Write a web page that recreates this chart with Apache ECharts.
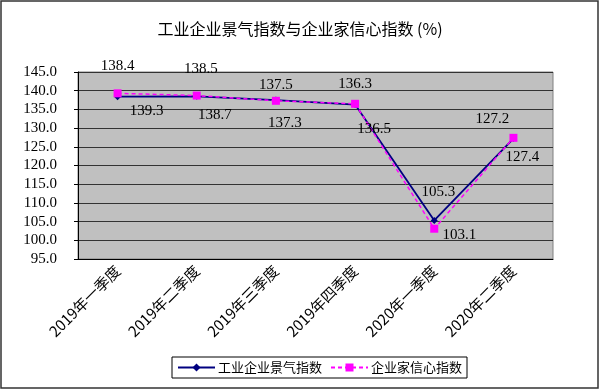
<!DOCTYPE html>
<html><head><meta charset="utf-8">
<script src="https://cdn.jsdelivr.net/npm/echarts@6/dist/echarts.min.js"></script>
<style>html,body{margin:0;padding:0;background:#fff}#c{width:600px;height:390px}</style>
</head><body><div id="c"></div>
<script>
var categories = ['2019年一季度','2019年二季度','2019年三季度','2019年四季度','2020年一季度','2020年二季度'];
var industryIndex = [138.4, 138.5, 137.5, 136.3, 105.3, 127.2];
var confidenceIndex = [139.3, 138.7, 137.3, 136.5, 103.1, 127.4];
var seriesNames = ['工业企业景气指数', '企业家信心指数'];
var yTicks = {min: 95, max: 145, interval: 5};

// label placement (pixel offsets from the point), kept apart from data
var industryLabelOffsets = [[0,-31],[4,-27],[0,-15],[0,-20],[4,-28],[-21,-20]];
var confidenceLabelOffsets = [[29,18],[18,20],[9,22],[19,25],[25,6],[9,19]];

var numFont = 'Liberation Serif';
var cjkFont = 'Noto Sans CJK SC';

function build(vals, offs){
  return vals.map(function(v,i){
    return {value: v, label: {offset: offs[i]}};
  });
}

var chart = echarts.init(document.getElementById('c'), null, {renderer:'canvas'});
chart.setOption({
  animation: false,
  backgroundColor: '#fff',
  title: {
    text: '工业企业景气指数与企业家信心指数 (%)',
    left: 'center', top: 16,
    textStyle: {fontFamily: cjkFont, fontSize: 16, fontWeight: 'normal', color: '#000'}
  },
  legend: {
    left: 172, top: 357,
    padding: [4, 5],
    itemGap: 8,
    itemWidth: 37, itemHeight: 10,
    borderColor: '#000', borderWidth: 1,
    backgroundColor: '#fff',
    textStyle: {fontFamily: cjkFont, fontSize: 13, color: '#000', padding: [0,0,0,-2]},
    data: seriesNames
  },
  grid: {
    left: 78, right: 47, top: 72, bottom: 131,
    show: true, backgroundColor: '#C0C0C0', borderColor: '#808080', borderWidth: 1
  },
  xAxis: {
    type: 'category', data: categories, boundaryGap: true,
    axisLine: {lineStyle: {color: '#000', width: 1}},
    axisTick: {inside: true, length: 4, lineStyle: {color: '#000'}},
    axisLabel: {rotate: 45, margin: 9, fontFamily: cjkFont, fontSize: 15, color: '#000', interval: 0}
  },
  yAxis: {
    type: 'value', min: yTicks.min, max: yTicks.max, interval: yTicks.interval,
    axisLine: {show: true, lineStyle: {color: '#000', width: 1}},
    axisTick: {show: true, length: 4, lineStyle: {color: '#000'}},
    splitLine: {lineStyle: {color: '#333', width: 1}},
    axisLabel: {margin: 21, fontFamily: numFont, fontSize: 15, color: '#000',
      formatter: function(v){ return v.toFixed(1); }}
  },
  graphic: [{
    type: 'rect', silent: true, z: 100,
    shape: {x: 1, y: 1, width: 597, height: 387},
    style: {fill: 'none', stroke: '#333', lineWidth: 1.5}
  }],
  series: [{
    name: seriesNames[0], type: 'line',
    data: build(industryIndex, industryLabelOffsets),
    symbol: 'diamond', symbolSize: 7,
    lineStyle: {color: '#000080', width: 1.8},
    itemStyle: {color: '#000080'},
    label: {show: true, position: 'inside', fontFamily: numFont, fontSize: 15, color: '#000',
      formatter: function(p){ return p.value.toFixed(1); }},
    z: 3
  },{
    name: seriesNames[1], type: 'line',
    data: build(confidenceIndex, confidenceLabelOffsets),
    symbol: 'rect', symbolSize: 8,
    lineStyle: {color: '#FF00FF', width: 1.5, type: [4,3]},
    itemStyle: {color: '#FF00FF'},
    label: {show: true, position: 'inside', fontFamily: numFont, fontSize: 15, color: '#000',
      formatter: function(p){ return p.value.toFixed(1); }},
    z: 4
  }]
});
</script>
</body></html>
